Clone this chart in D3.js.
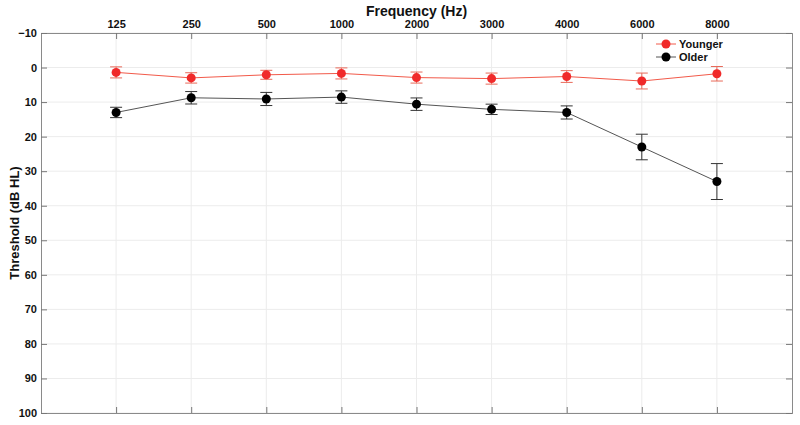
<!DOCTYPE html>
<html>
<head>
<meta charset="utf-8">
<title>hearing thresholds by frequency</title>
<script src="https://cdn.jsdelivr.net/npm/d3@7/dist/d3.min.js"></script>
<style>
  body { margin: 0; background: #fff; }
  text { font-family: Arial, "Liberation Sans", sans-serif; fill: #111; }
</style>
</head>
<body>
<script>
  // data
  var freqs = ["125", "250", "500", "1000", "2000", "3000", "4000", "6000", "8000"];
  var youngerMean = [1.4, 3.0, 2.1, 1.7, 2.9, 3.2, 2.6, 3.9, 1.8];
  var youngerErr  = [1.6, 1.5, 1.3, 1.6, 1.6, 1.6, 1.7, 2.3, 2.1];
  var olderMean   = [13.0, 8.75, 9.1, 8.55, 10.6, 12.1, 13.0, 23.0, 33.0];
  var olderErr    = [1.5, 1.8, 1.9, 1.8, 1.8, 1.5, 1.9, 3.7, 5.2];
  var yTicks = [-10, 0, 10, 20, 30, 40, 50, 60, 70, 80, 90, 100];

  var margin = {top: 33, right: 8, bottom: 12, left: 41},
      width = 800 - margin.left - margin.right,
      height = 425 - margin.top - margin.bottom;

  var svg = d3.select('body').append('svg')
      .attr('width', 800).attr('height', 425)
    .append('g')
      .attr('transform', 'translate(' + margin.left + ',' + margin.top + ')');

  // categories sit at 1..9 on a 0..10 axis
  var x = d3.scaleLinear().domain([0, 10]).range([0, width]);
  var xPos = function(i) { return x(i + 1); };
  var y = d3.scaleLinear().domain([-10, 100]).range([0, height]);

  // grid
  svg.append('g').selectAll('line.v').data(freqs).enter().append('line')
    .attr('x1', function(d, i) { return xPos(i); })
    .attr('x2', function(d, i) { return xPos(i); })
    .attr('y1', 0).attr('y2', height)
    .attr('stroke', '#ececec').attr('stroke-width', 1);
  svg.append('g').selectAll('line.h').data(yTicks).enter().append('line')
    .attr('x1', 0).attr('x2', width)
    .attr('y1', function(d) { return y(d); })
    .attr('y2', function(d) { return y(d); })
    .attr('stroke', '#ececec').attr('stroke-width', 1);

  // axes: labels on top and left, inward ticks on all sides
  var xTop = d3.axisTop(x).tickValues(d3.range(1, 10))
      .tickFormat(function(d) { return freqs[d - 1]; })
      .tickSize(-6).tickPadding(5);
  var xBot = d3.axisBottom(x).tickValues(d3.range(1, 10))
      .tickFormat('').tickSize(-6);
  var yLeft = d3.axisLeft(y).tickValues(yTicks).tickSize(-6).tickPadding(4);
  var yRight = d3.axisRight(y).tickValues(yTicks).tickFormat('').tickSize(-6);

  function styleAxis(g) {
    g.select('.domain').attr('stroke', '#8a8a8a');
    g.selectAll('.tick line').attr('stroke', '#777');
    g.selectAll('.tick text').attr('font-size', 11).attr('font-weight', 'bold')
      .attr('font-family', 'Arial, "Liberation Sans", sans-serif').attr('fill', '#111');
  }
  svg.append('g').call(xTop).call(styleAxis);
  svg.append('g').attr('transform', 'translate(0,' + height + ')').call(xBot).call(styleAxis);
  svg.append('g').call(yLeft).call(styleAxis);
  svg.append('g').attr('transform', 'translate(' + width + ',0)').call(yRight).call(styleAxis);

  // axis titles
  svg.append('text')
    .attr('x', width / 2).attr('y', -17)
    .attr('text-anchor', 'middle')
    .attr('font-size', 14).attr('font-weight', 'bold')
    .text('Frequency (Hz)');
  svg.append('text')
    .attr('transform', 'rotate(-90)')
    .attr('x', -height / 2).attr('y', -22)
    .attr('text-anchor', 'middle')
    .attr('font-size', 13).attr('font-weight', 'bold')
    .text('Threshold (dB HL)');

  var series = [
    {name: 'Younger', mean: youngerMean, err: youngerErr, dot: '#f02a2a', line: '#f25a4a', bar: '#e86a5a'},
    {name: 'Older', mean: olderMean, err: olderErr, dot: '#000', line: '#555', bar: '#333'}
  ];

  series.forEach(function(s) {
    var pts = s.mean.map(function(m, i) { return {i: i, m: m, e: s.err[i]}; });
    var g = svg.append('g');
    g.append('path').datum(pts)
      .attr('fill', 'none').attr('stroke', s.line).attr('stroke-width', 1)
      .attr('d', d3.line().x(function(d) { return xPos(d.i); }).y(function(d) { return y(d.m); }));
    var eb = g.selectAll('g.eb').data(pts).enter().append('g')
      .attr('stroke', s.bar).attr('stroke-width', 1);
    eb.append('line')
      .attr('x1', function(d) { return xPos(d.i); }).attr('x2', function(d) { return xPos(d.i); })
      .attr('y1', function(d) { return y(d.m - d.e); }).attr('y2', function(d) { return y(d.m + d.e); });
    [-1, 1].forEach(function(sgn) {
      eb.append('line')
        .attr('x1', function(d) { return xPos(d.i) - 6; }).attr('x2', function(d) { return xPos(d.i) + 6; })
        .attr('y1', function(d) { return y(d.m + sgn * d.e); }).attr('y2', function(d) { return y(d.m + sgn * d.e); });
    });
    g.selectAll('circle').data(pts).enter().append('circle')
      .attr('cx', function(d) { return xPos(d.i); })
      .attr('cy', function(d) { return y(d.m); })
      .attr('r', 4.5).attr('fill', s.dot);
  });

  // legend
  var leg = svg.append('g').attr('transform', 'translate(' + (width - 136) + ',11)');
  series.forEach(function(s, k) {
    var row = leg.append('g').attr('transform', 'translate(0,' + (k * 13) + ')');
    row.append('line').attr('x1', 0).attr('x2', 20).attr('y1', 0).attr('y2', 0)
      .attr('stroke', s.line).attr('stroke-width', 1);
    row.append('circle').attr('cx', 10).attr('cy', 0).attr('r', 4.5).attr('fill', s.dot);
    row.append('text').attr('x', 23).attr('y', 4)
      .attr('font-size', 11).attr('font-weight', 'bold').text(s.name);
  });
</script>
</body>
</html>
